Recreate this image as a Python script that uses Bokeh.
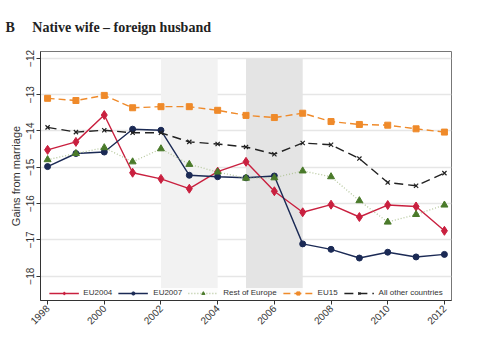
from bokeh.plotting import figure
from bokeh.models import BoxAnnotation, Legend, FixedTicker, Range1d
from bokeh.embed import file_html
from bokeh.resources import INLINE

years = list(range(1998, 2013))
eu2004 = [-14.52, -14.30, -13.56, -15.15, -15.32, -15.59, -15.12, -14.85, -15.66, -16.24, -16.03, -16.37, -16.04, -16.08, -16.75]
eu2007 = [-14.98, -14.62, -14.58, -13.95, -13.98, -15.22, -15.26, -15.29, -15.24, -17.11, -17.26, -17.50, -17.34, -17.47, -17.40]
rest_europe = [-14.79, -14.62, -14.46, -14.85, -14.49, -14.92, -15.13, -15.30, -15.29, -15.10, -15.26, -15.92, -16.51, -16.30, -16.04]
eu15 = [-13.10, -13.16, -13.02, -13.36, -13.33, -13.33, -13.43, -13.57, -13.63, -13.51, -13.74, -13.82, -13.84, -13.94, -14.03]
all_other = [-13.90, -14.03, -13.98, -14.05, -14.05, -14.30, -14.36, -14.44, -14.64, -14.33, -14.38, -14.76, -15.42, -15.51, -15.16]

x_ticks = [1998, 2000, 2002, 2004, 2006, 2008, 2010, 2012]
y_ticks = [-18, -17, -16, -15, -14, -13, -12]
shade1 = (2002, 2004)
shade2 = (2005, 2007)
shade_bottom, shade_top = -18.5, -12.0

p = figure(width=471, height=343, output_backend="svg", toolbar_location=None,
           x_range=Range1d(1997.75, 2012.25), y_range=Range1d(-18.67, -11.81),
           min_border_left=40, min_border_right=20, min_border_top=0, min_border_bottom=43)

p.title.text = "B\u00a0\u00a0\u00a0\u00a0\u00a0Native wife \u2013 foreign husband"
p.title.text_font = "Liberation Serif"
p.title.text_font_size = "14px"
p.title.text_font_style = "bold"
p.title.text_color = "#222222"
p.title.align = "left"
p.title.offset = -35
p.title.standoff = 34

p.add_layout(BoxAnnotation(left=shade1[0], right=shade1[1], bottom=shade_bottom, top=shade_top,
                           fill_color="#f2f2f2", fill_alpha=1, line_color=None, level="underlay"))
p.add_layout(BoxAnnotation(left=shade2[0], right=shade2[1], bottom=shade_bottom, top=shade_top,
                           fill_color="#e4e4e4", fill_alpha=1, line_color=None, level="underlay"))

r1 = p.line(years, eu2004, line_color="#c9203f", line_width=1.4)
r1m = p.scatter(years, eu2004, marker="diamond", size=9, fill_color="#c9203f", line_color="#c9203f")
r2 = p.line(years, eu2007, line_color="#1b2a55", line_width=1.4)
r2m = p.scatter(years, eu2007, marker="circle", size=6, fill_color="#1b2a55", line_color="#1b2a55")
r3 = p.line(years, rest_europe, line_color="#b5c79c", line_width=1.3, line_dash="1 2")
r3m = p.scatter(years, rest_europe, marker="triangle", size=7, fill_color="#4a7a2a", line_color="#4a7a2a")
r4 = p.line(years, eu15, line_color="#ef8a2a", line_width=1.4, line_dash="7 4")
r4m = p.scatter(years, eu15, marker="square", size=6, fill_color="#ef8a2a", line_color="#ef8a2a")
r5 = p.line(years, all_other, line_color="#222222", line_width=1.4, line_dash="9 5")
r5m = p.scatter(years, all_other, marker="x", size=6, line_color="#222222", line_width=1.2)

legend = Legend(items=[("EU2004", [r1, r1m]), ("EU2007", [r2, r2m]), ("Rest of Europe", [r3, r3m]),
                       ("EU15", [r4, r4m]), ("All other countries", [r5, r5m])],
                orientation="horizontal", location="bottom_center", border_line_color=None,
                background_fill_color="white", background_fill_alpha=0.85,
                label_text_font="Liberation Sans", label_text_font_size="8px",
                label_text_color="#333333", glyph_width=30, glyph_height=8, label_height=8,
                label_standoff=5, spacing=6, padding=2, margin=3)
p.add_layout(legend, "center")

p.xaxis.ticker = FixedTicker(ticks=x_ticks)
p.yaxis.ticker = FixedTicker(ticks=y_ticks)
p.xaxis.major_label_orientation = 0.7854
p.yaxis.major_label_orientation = "parallel"
for ax in (p.xaxis, p.yaxis):
    ax.axis_line_color = "#333333"
    ax.major_tick_line_color = "#333333"
    ax.minor_tick_line_color = None
    ax.major_tick_out = 4
    ax.major_tick_in = 0
    ax.major_label_text_font = "Liberation Sans"
    ax.major_label_text_font_size = "10px"
    ax.major_label_text_color = "#333333"
    ax.major_label_standoff = 2
p.yaxis.axis_label = "Gains from marriage"
p.yaxis.axis_label_text_font = "Liberation Sans"
p.yaxis.axis_label_text_font_size = "11px"
p.yaxis.axis_label_text_font_style = "normal"
p.yaxis.axis_label_text_color = "#333333"
p.yaxis.axis_label_standoff = 2

p.xgrid.grid_line_color = None
p.ygrid.grid_line_color = "#e6e6e6"
p.ygrid.grid_line_width = 1.5
p.outline_line_color = "#777777"
p.background_fill_color = "white"

open("out.html", "w").write(file_html(p, INLINE))
